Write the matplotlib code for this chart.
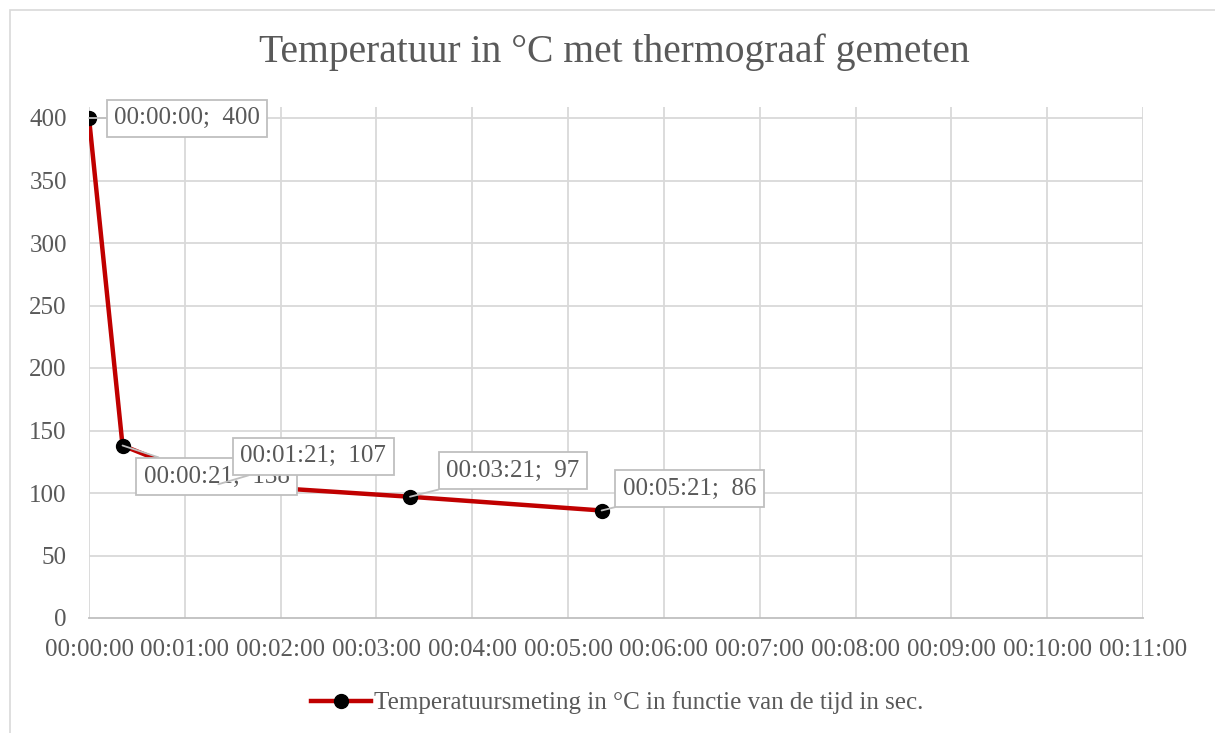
import matplotlib.pyplot as plt
from matplotlib.patches import Rectangle
from matplotlib.ticker import FuncFormatter

# Data: time in seconds and temperature in °C
times_s = [0, 21, 81, 201, 321]
temps = [400, 138, 107, 97, 86]
x_ticks = list(range(0, 661, 60))
y_ticks = list(range(0, 401, 50))

# label box offsets in pixels (dx, dy) relative to each point
label_offsets = [(98, 0), (94, -31), (95, 28), (103, 26), (88, 22)]

TXT = "#595959"
GRID = "#d9d9d9"


def hms(sec, pos=None):
    sec = int(round(sec))
    return f"{sec // 3600:02d}:{(sec % 3600) // 60:02d}:{sec % 60:02d}"


plt.rcParams["font.family"] = ["Liberation Serif", "DejaVu Serif"]

fig = plt.figure(figsize=(12.15, 7.33), dpi=100)
ax = fig.add_axes([89 / 1215, 1 - 618 / 733, (1143 - 89) / 1215, (618 - 107) / 733])

# Outer chart border
fig.patches.append(Rectangle((10 / 1215, -0.01), 1.0, 1 - 10 / 733 + 0.01,
                             transform=fig.transFigure, fill=False,
                             edgecolor=GRID, linewidth=1.2))

ax.plot(times_s, temps, color="#c00000", linewidth=3.2, marker="o",
        markersize=10, markerfacecolor="black", markeredgecolor="black",
        label="Temperatuursmeting in °C in functie van de tijd in sec.", zorder=3)

ax.set_xlim(0, 660)
ax.set_ylim(0, 408.8)
ax.set_xticks(x_ticks)
ax.set_yticks(y_ticks)
ax.xaxis.set_major_formatter(FuncFormatter(hms))

# Gridlines: vertical full height, horizontal at ticks
for xt in x_ticks:
    ax.axvline(xt, color=GRID, linewidth=1.3, zorder=0)
for yt in y_ticks[1:]:
    ax.axhline(yt, color=GRID, linewidth=1.3, zorder=0)

for side in ["left", "right", "top"]:
    ax.spines[side].set_visible(False)
ax.spines["bottom"].set_color("#bfbfbf")
ax.spines["bottom"].set_linewidth(1.3)
ax.tick_params(length=0, labelsize=18, colors=TXT)
ax.tick_params(axis="y", pad=16)
ax.tick_params(axis="x", pad=15)

# Data labels with leader lines
for (t, v), (dx, dy) in zip(zip(times_s, temps), label_offsets):
    ax.annotate(f"{hms(t)};  {v}", xy=(t, v), xytext=(dx, dy),
                textcoords="offset pixels", ha="center", va="center",
                fontsize=18, color=TXT, zorder=4,
                bbox=dict(boxstyle="square,pad=0.3", fc="white", ec="#bfbfbf", lw=1.3),
                arrowprops=dict(arrowstyle="-", color="#bfbfbf", lw=1.3,
                                shrinkA=0, shrinkB=0))

fig.text(614 / 1215, 1 - 52 / 733, "Temperatuur in °C met thermograaf gemeten",
         ha="center", va="center", fontsize=28.5, color=TXT)

fig.legend(loc="center", bbox_to_anchor=(617 / 1215, 1 - 703 / 733), frameon=False,
           fontsize=18, labelcolor=TXT, handlelength=2.4, handletextpad=0.1)

fig.savefig("out.png", dpi=100)
